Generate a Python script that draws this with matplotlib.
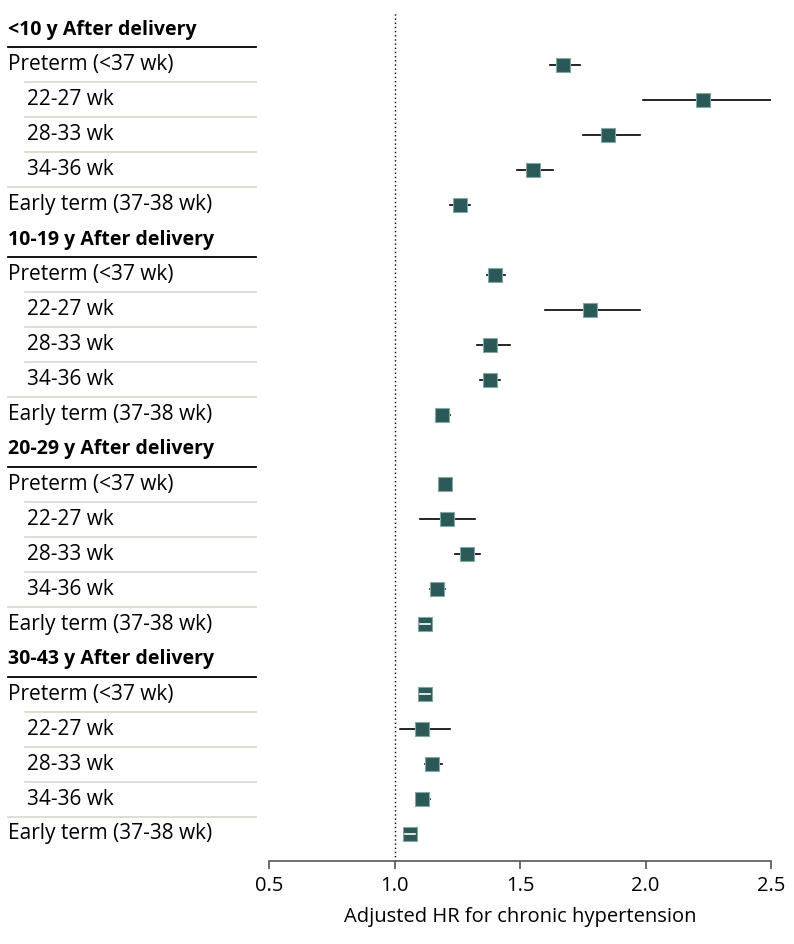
import matplotlib.pyplot as plt
import matplotlib.transforms as mtransforms
import numpy as np

# 数据: 每个时期 5 行 (Preterm, 22-27, 28-33, 34-36, Early term)
periods = ["<10 y After delivery", "10-19 y After delivery",
           "20-29 y After delivery", "30-43 y After delivery"]
row_labels = ["Preterm (<37 wk)", "22-27 wk", "28-33 wk", "34-36 wk",
              "Early term (37-38 wk)"]
row_indent = [False, True, True, True, False]

hr = [
    [1.67, 2.23, 1.85, 1.55, 1.26],
    [1.40, 1.78, 1.38, 1.38, 1.19],
    [1.20, 1.21, 1.29, 1.17, 1.12],
    [1.12, 1.11, 1.15, 1.11, 1.06],
]
ci_low = [
    [1.62, 1.99, 1.75, 1.49, 1.22],
    [1.37, 1.60, 1.33, 1.34, 1.17],
    [1.18, 1.10, 1.24, 1.14, 1.10],
    [1.10, 1.02, 1.12, 1.09, 1.04],
]
ci_high = [
    [1.74, 2.50, 1.98, 1.63, 1.30],
    [1.44, 1.98, 1.46, 1.42, 1.22],
    [1.23, 1.32, 1.34, 1.20, 1.14],
    [1.14, 1.22, 1.19, 1.14, 1.08],
]
xticks = [0.5, 1.0, 1.5, 2.0, 2.5]

plt.rcParams["font.family"] = ["Open Sans", "DejaVu Sans"]
W, H = 794, 944
fig = plt.figure(figsize=(W / 100, H / 100), dpi=100)

n_rows = len(periods) * (len(row_labels) + 1)
pitch = (834 - 30) / (n_rows - 1)
y_bottom_px = 861
y_top_px = 30 - 0.5 * pitch
ax = fig.add_axes([269 / W, 1 - y_bottom_px / H, (771 - 269) / W,
                   (y_bottom_px - y_top_px) / H])
ax.set_xlim(0.5, 2.5)
ax.set_ylim((y_bottom_px - 30) / pitch, -0.5)

sq_color = "#2b5957"
sq_half = 7 / 250  # 方块半宽 (数据单位)
trans = mtransforms.blended_transform_factory(fig.transFigure, ax.transData)

# 构建行列表
rows = []
for p, period in enumerate(periods):
    rows.append(("header", period, None))
    for k, lab in enumerate(row_labels):
        rows.append(("row", lab, (p, k)))

for i, (kind, lab, idx) in enumerate(rows):
    if kind == "header":
        ax.text(8 / W, i, lab, transform=trans, fontsize=14, fontweight="bold",
                va="center", ha="left", clip_on=False)
        ax.plot([8 / W, 256 / W], [i + 0.5, i + 0.5], transform=trans,
                color="black", lw=1.3, clip_on=False)
        continue
    p, k = idx
    x0 = 27 if row_indent[k] else 8
    ax.text(x0 / W, i, lab, transform=trans, fontsize=15, va="center",
            ha="left", clip_on=False)
    # 行分隔线
    if i < n_rows - 1 and rows[i + 1][0] == "row":
        nk = rows[i + 1][2][1]
        lx = 25 if row_indent[nk] else 8
        ax.plot([lx / W, 256 / W], [i + 0.5, i + 0.5], transform=trans,
                color="#d8d8cc", lw=1.2, clip_on=False)

    lo, hi, v = ci_low[p][k], ci_high[p][k], hr[p][k]
    inside = lo >= v - sq_half and hi <= v + sq_half
    ax.plot([lo, hi], [i, i], color="black", lw=1.2, zorder=2)
    ax.plot(v, i, marker="s", markersize=10.3, color=sq_color,
            markeredgecolor="#86a8a4", markeredgewidth=0.8, zorder=3)
    if inside:
        ax.plot([lo, hi], [i, i], color="white", lw=1.2, zorder=4)

# 参考线 HR = 1
ax.axvline(1.0, color="black", lw=1.0, ls=(0, (1, 2)), zorder=1)

for s in ["top", "right", "left"]:
    ax.spines[s].set_visible(False)
ax.spines["bottom"].set_color("#555555")
ax.spines["bottom"].set_linewidth(1.2)
ax.set_yticks([])
ax.set_xticks(xticks)
ax.set_xticklabels([f"{t:.1f}" for t in xticks])
ax.tick_params(axis="x", direction="out", length=6, width=1.2,
               color="#555555", labelsize=14.5, pad=5)
ax.set_xlabel("Adjusted HR for chronic hypertension", fontsize=14.5,
              labelpad=8)

fig.savefig("out.png", dpi=100)
